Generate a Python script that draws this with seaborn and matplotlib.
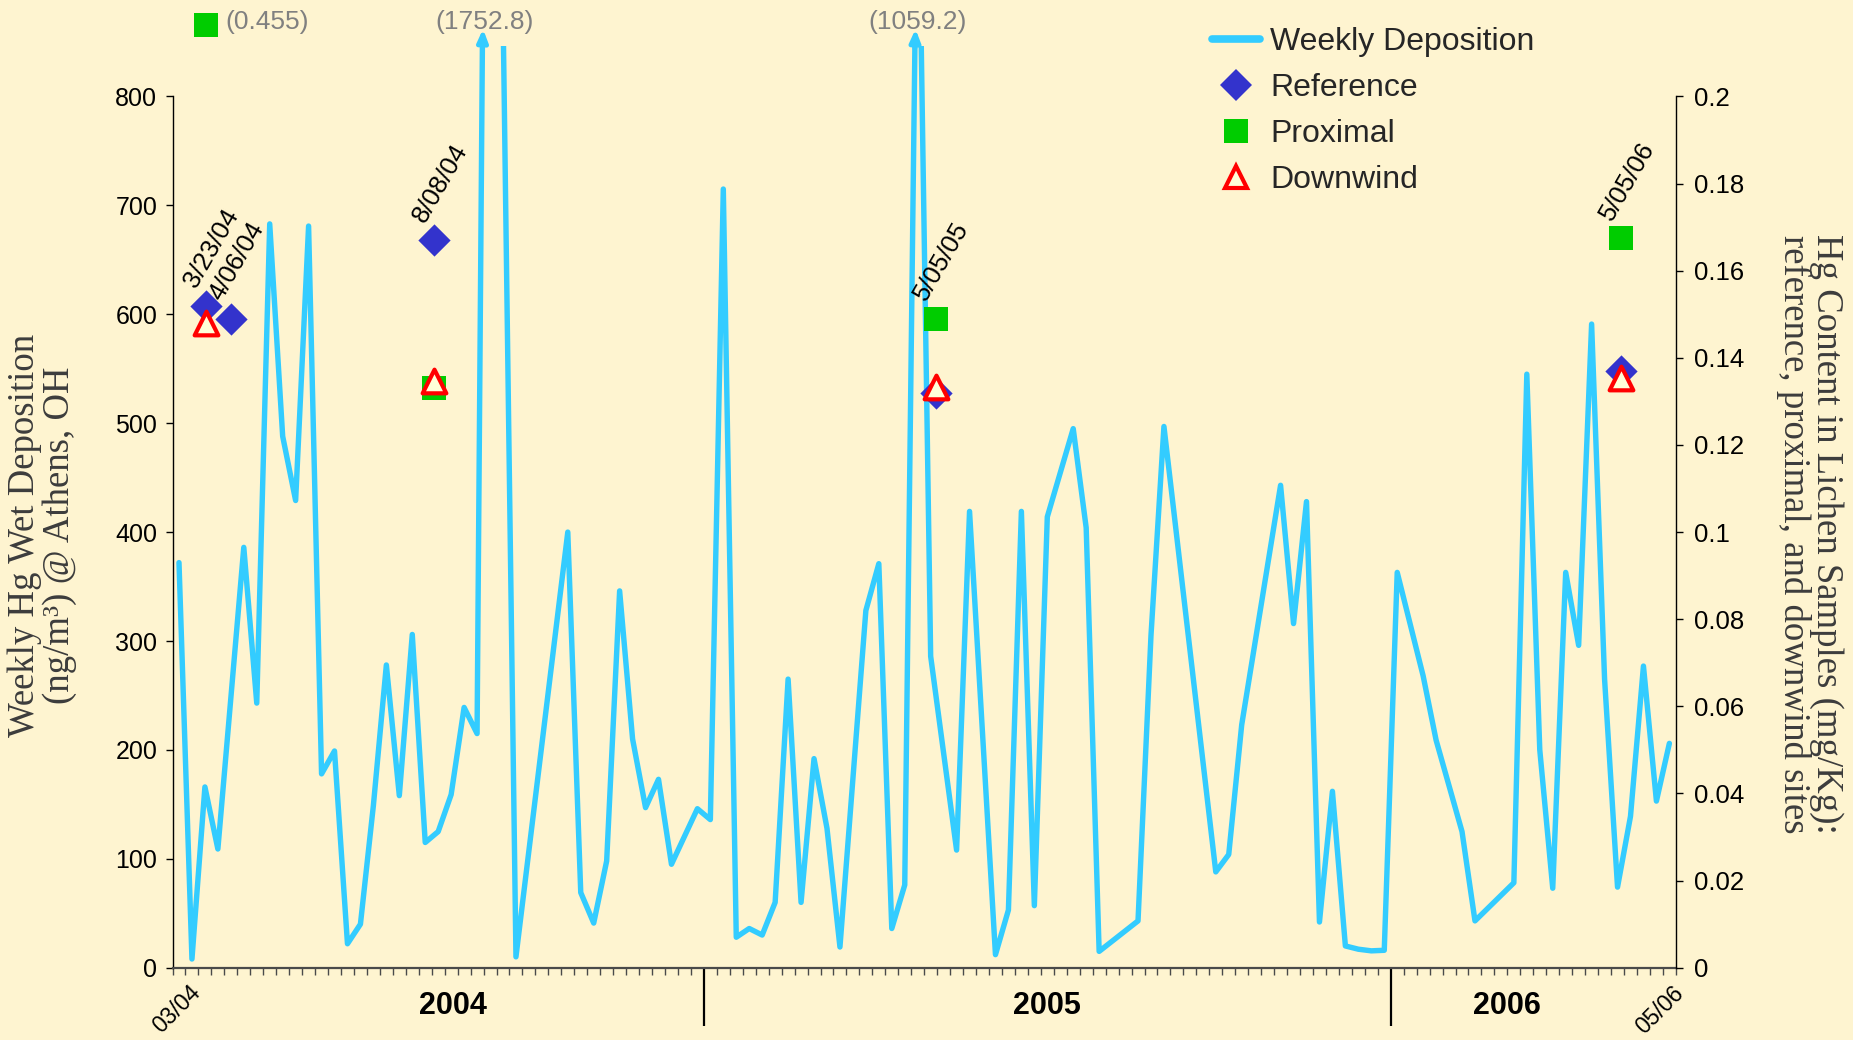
import numpy as np
import pandas as pd
import matplotlib
matplotlib.use("Agg")
import matplotlib.pyplot as plt
import matplotlib.transforms as mtransforms
from matplotlib.lines import Line2D
import seaborn as sns

# weekly Hg wet deposition (ng/m3) at Athens OH, by weekly slot on the axis
dep_week = [0, 1, 2, 3, 5, 6, 7, 8, 9, 10, 11, 12, 13, 14, 15, 16, 17, 18, 19, 20,
            21, 22, 23, 24, 26, 30, 31, 32, 33, 34, 35, 36, 37, 38, 40, 41, 42, 43, 44, 45,
            46, 47, 48, 49, 50, 51, 53, 54, 55, 56, 57, 58, 60, 61, 63, 64, 65, 66, 67, 69,
            70, 71, 74, 75, 76, 80, 81, 82, 85, 86, 87, 88, 89, 90, 91, 92, 93, 94, 96, 97,
            99, 100, 103, 104, 105, 106, 107, 108, 109, 110, 111, 112, 113, 114, 115]
dep_value = [372, 8, 166, 109, 386, 243, 683, 488, 429, 681, 178, 199, 22, 40, 149, 278, 158, 306, 115, 125,
             159, 239, 215, 1752.8, 10, 400, 69, 41, 98, 346, 210, 147, 173, 95, 146, 136, 715, 28, 36, 30,
             60, 265, 60, 192, 128, 19, 328, 371, 36, 76, 1059.2, 286, 108, 419, 12, 53, 419, 57, 414, 495,
             404, 15, 43, 305, 497, 88, 104, 223, 443, 316, 428, 42, 162, 20, 17, 15.5, 16, 363, 268, 209,
             125, 43, 78, 545, 200, 73, 363, 296, 591, 265, 74, 139, 277, 153, 206]
n_slots = 116
year_breaks = [41, 94]
year_labels = ["2004", "2005", "2006"]
year_label_pos = [21.6, 67.5, 103.0]
start_label, end_label = "03/04", "05/06"

# lichen Hg content (mg/Kg)
sample_label = ["3/23/04", "4/06/04", "8/08/04", "5/05/05", "5/05/06"]
sample_week = [2.1, 4.0, 19.7, 58.4, 111.3]
reference = [0.152, 0.149, 0.167, 0.132, 0.137]
proximal = [0.455, np.nan, 0.133, 0.149, 0.1675]
downwind = [0.148, np.nan, 0.1346, 0.1333, 0.1354]

dep_top = 846
lichen_scale = 4000  # 800 ng/m3 <-> 0.2 mg/Kg

bg = "#FEF4D0"
line_c = "#33CCFF"
ref_c = "#3333CC"
prox_c = "#00CC00"
down_c = "#FF0000"
grey = "#808080"
title_c = "#3c3c3c"

sns.set_theme(style="ticks")
plt.rcParams["font.family"] = ["Liberation Sans", "DejaVu Sans"]

fig = plt.figure(figsize=(18.53, 10.40), dpi=100, facecolor=bg)
ax = fig.add_axes([0.0931, 0.0695, 0.8113, 0.8859])
ax.set_facecolor(bg)

dep = pd.DataFrame({"week": np.array(dep_week) + 0.5, "value": dep_value})
sns.lineplot(data=dep, x="week", y="value", ax=ax, color=line_c, lw=3.9,
             estimator=None, sort=False, legend=False,
             solid_joinstyle="round", solid_capstyle="round")
ax.set_xlim(0, n_slots)
ax.set_ylim(0, dep_top)
ax.set_xlabel("")
ax.set_ylabel("")

for s in ["top", "right"]:
    ax.spines[s].set_visible(False)
ax.spines["left"].set_bounds(0, 800)
ax.spines["left"].set_color("black")
ax.spines["left"].set_linewidth(1.0)
ax.spines["bottom"].set_color("#4a4a4a")
ax.spines["bottom"].set_linewidth(1.6)

ax.set_yticks(np.arange(0, 801, 100))
ax.tick_params(axis="y", direction="out", length=5, width=1, color="black",
               labelsize=18, pad=6, labelcolor="black")
ax.set_xticks(year_breaks)
ax.set_xticklabels([])
ax.set_xticks(np.arange(0, n_slots + 1), minor=True)
ax.tick_params(axis="x", which="major", direction="out", length=42, width=1.6, color="black")
ax.tick_params(axis="x", which="minor", direction="out", length=5, width=1, color="#4a4a4a")

# second axis for lichen samples
ax2 = ax.twinx()
ax2.set_ylim(0, dep_top / lichen_scale)
for s in ["top", "left", "bottom"]:
    ax2.spines[s].set_visible(False)
ax2.spines["right"].set_bounds(0, 0.2)
ax2.spines["right"].set_color("black")
ax2.spines["right"].set_linewidth(1.0)
rticks = np.round(np.arange(0, 0.2001, 0.02), 2)
ax2.set_yticks(rticks)
ax2.set_yticklabels([f"{v:g}" for v in rticks])
ax2.tick_params(axis="y", direction="out", length=5, width=1, color="black",
                labelsize=18.5, pad=8, labelcolor="black")

lich = pd.DataFrame({"week": np.array(sample_week) + 0.5, "ref": reference,
                     "prox": proximal, "down": downwind})
top2 = dep_top / lichen_scale
in_prox = lich[lich["prox"] <= top2]
off_prox = lich[lich["prox"] > top2]

sns.scatterplot(data=lich, x="week", y="ref", ax=ax2, marker="D", s=270,
                color=ref_c, linewidth=0, zorder=3, legend=False)
sns.scatterplot(data=in_prox, x="week", y="prox", ax=ax2, marker="s", s=295,
                color=prox_c, linewidth=0, zorder=4, legend=False)
sns.scatterplot(data=lich, x="week", y="down", ax=ax2, marker="^", s=290,
                facecolor="#FFFFD8", edgecolor=down_c, linewidth=3.0, zorder=5, legend=False)
ax2.set_xlabel("")
ax2.set_ylabel("")

# off-scale proximal value drawn above the plot
trans2 = mtransforms.blended_transform_factory(ax2.transData, ax2.transAxes)
ax2.scatter(off_prox["week"], [1.0235] * len(off_prox), marker="s", s=295, color=prox_c,
            linewidth=0, transform=trans2, clip_on=False, zorder=4)
for _, r in off_prox.iterrows():
    ax2.text(r["week"] + 1.5, 1.027, f"({r['prox']:g})", transform=trans2, ha="left",
             va="center", fontsize=19, color=grey)

# sample date labels
for i, lab in enumerate(sample_label):
    vals = [v for v in (reference[i], proximal[i], downwind[i]) if not np.isnan(v) and v <= top2]
    ax2.annotate(lab, xy=(sample_week[i] + 0.5, max(vals)), xytext=(-4, 10),
                 textcoords="offset points", rotation=60, rotation_mode="anchor",
                 ha="left", va="bottom", fontsize=18.5, color="black", zorder=6)

# arrows for off-scale deposition peaks
trans1 = mtransforms.blended_transform_factory(ax.transData, ax.transAxes)
xs = np.array(dep_week) + 0.5
for k, v in enumerate(dep_value):
    if v > dep_top:
        x0, y0 = xs[k - 1], dep_value[k - 1]
        xc = x0 + (dep_top - y0) / (v - y0) * (xs[k] - x0)
        ax.annotate("", xy=(xc + 0.05, dep_top + 16), xytext=(xc, dep_top - 2),
                    arrowprops=dict(arrowstyle="-|>,head_length=0.6,head_width=0.25",
                                    color=line_c, lw=3.4, shrinkA=0, shrinkB=0),
                    annotation_clip=False)
        ax.text(xc + 0.2, 1.027, f"({v:g})", transform=trans1, ha="center", va="center",
                fontsize=19, color=grey)

# year and end labels under the axis
for x, lab in zip(year_label_pos, year_labels):
    ax.text(x, -0.0412, lab, transform=trans1, ha="center", va="center",
            fontsize=22, fontweight="bold", color="black")
ax.text(1.3, -0.014, start_label, transform=trans1, ha="right", va="top", rotation=45,
        rotation_mode="anchor", fontsize=16.5, color="black")
ax.text(115.7, -0.015, end_label, transform=trans1, ha="right", va="top", rotation=45,
        rotation_mode="anchor", fontsize=16.5, color="black")

# axis titles
fig.text(42 / 1853, 1 - 535 / 1040, "Weekly Hg Wet Deposition\n(ng/m³) @ Athens, OH",
         rotation=90, ha="center", va="center", multialignment="center", linespacing=1.0,
         fontsize=26.5, color=title_c, family=["Liberation Serif", "DejaVu Serif"])
fig.text(1810 / 1853, 1 - 534 / 1040,
         "Hg Content in Lichen Samples (mg/Kg):\nreference, proximal, and downwind sites",
         rotation=270, ha="center", va="center", multialignment="center", linespacing=0.9,
         fontsize=26.5, color=title_c, family=["Liberation Serif", "DejaVu Serif"])

# legend
handles = [
    Line2D([], [], color=line_c, lw=5.5),
    Line2D([], [], color=ref_c, marker="D", ms=16.3, lw=0, markeredgewidth=0),
    Line2D([], [], color=prox_c, marker="s", ms=17, lw=0, markeredgewidth=0),
    Line2D([], [], color=down_c, marker="^", ms=15.5, lw=0, markerfacecolor="#FFFFD8",
           markeredgecolor=down_c, markeredgewidth=3.0),
]
labels = ["Weekly Deposition", "Reference", "Proximal", "Downwind"]
fig.legend(handles, labels, loc="upper left", bbox_to_anchor=(1212 / 1853, 1 - 27 / 1040),
           frameon=False, fontsize=23, handlelength=1.5, handletextpad=0.32,
           labelspacing=0.5, borderpad=0, borderaxespad=0)

fig.savefig("out.png", dpi=100, facecolor=bg)
